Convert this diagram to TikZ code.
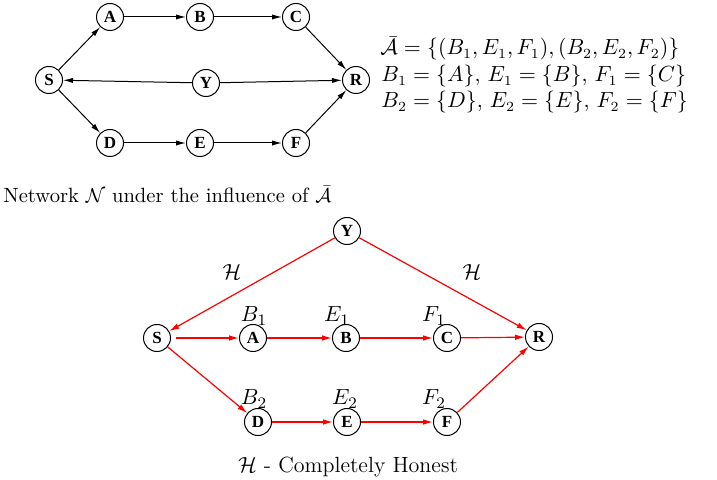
\documentclass[tikz,border=0pt]{standalone}
\usepackage{fontspec}
\newfontfamily\nodefont{Liberation Serif}
\usetikzlibrary{arrows.meta}
\begin{document}
\begin{tikzpicture}[x=0.5pt,y=-0.5pt,
  vtx/.style={circle,draw,line width=0.5pt,minimum size=13.5pt,inner sep=0pt,font=\nodefont\bfseries\fontsize{8.5}{9}\selectfont},
  blk/.style={line width=0.5pt,-{Latex[length=5pt,width=2.6pt]}},
  redarr/.style={red,line width=0.6pt,-{Latex[length=5pt,width=2.8pt]}},
  lbl/.style={inner sep=0pt,anchor=base,font=\fontsize{11}{13}\selectfont},
  rtxt/.style={inner sep=0pt,anchor=base west,font=\fontsize{10.7}{13}\selectfont}
]
\useasboundingbox (0,0) rectangle (717,480);
% top graph
\node[vtx] (S) at (49,80) {S};
\node[vtx] (A) at (110,17) {A};
\node[vtx] (B) at (200,17) {B};
\node[vtx] (C) at (296,17) {C};
\node[vtx] (Y) at (206,83) {Y};
\node[vtx] (R) at (356,80) {R};
\node[vtx] (D) at (110,143) {D};
\node[vtx] (E) at (200,143) {E};
\node[vtx] (F) at (296,143) {F};
\draw[blk] (S) -- (A);
\draw[blk] (A) -- (B);
\draw[blk] (B) -- (C);
\draw[blk] (C) -- (R);
\draw[blk] (Y) -- (S);
\draw[blk] (Y) -- (R);
\draw[blk] (S) -- (D);
\draw[blk] (D) -- (E);
\draw[blk] (E) -- (F);
\draw[blk] (F) -- (R);
% right text
\node[rtxt] (t1) at (380,55) {$\bar{\mathcal{A}} = \{(B_1,E_1,F_1),(B_2,E_2,F_2)\}$};
\node[rtxt] (t2) at (381,82) {$B_1=\{A\}$, $E_1=\{B\}$, $F_1=\{C\}$};
\node[rtxt] (t3) at (381,108) {$B_2=\{D\}$, $E_2=\{E\}$, $F_2=\{F\}$};
% caption
\node[inner sep=0pt,anchor=base west,font=\fontsize{10.3}{12}\selectfont] (cap1) at (3,203) {Network $\mathcal{N}$ under the influence of $\bar{\mathcal{A}}$};
% bottom graph
\node[vtx] (S2) at (157,338) {S};
\node[vtx] (A2) at (253,338) {A};
\node[vtx] (B2) at (346,338) {B};
\node[vtx] (C2) at (447,338) {C};
\node[vtx] (R2) at (539,337) {R};
\node[vtx] (Y2) at (347,231) {Y};
\node[vtx] (D2) at (258,422) {D};
\node[vtx] (E2) at (347,422) {E};
\node[vtx] (F2) at (447,422) {F};
\draw[redarr] (Y2) -- (S2);
\draw[redarr] (Y2) -- (R2);
\draw[redarr,shorten <=2.5pt] (S2) -- (A2);
\draw[redarr] (A2) -- (B2);
\draw[redarr] (B2) -- (C2);
\draw[redarr] (C2) -- (R2);
\draw[redarr] (S2) -- (D2);
\draw[redarr] (D2) -- (E2);
\draw[redarr] (E2) -- (F2);
\draw[redarr] (F2) -- (R2);
\node[lbl] (h1) at (232,280) {$\mathcal{H}$};
\node[lbl] (h2) at (472,280) {$\mathcal{H}$};
\node[lbl] (lb1) at (254,322) {$B_1$};
\node[lbl] (le1) at (337,322) {$E_1$};
\node[lbl] (lf1) at (434,322) {$F_1$};
\node[lbl] (lb2) at (254,405) {$B_2$};
\node[lbl] (le2) at (345,405) {$E_2$};
\node[lbl] (lf2) at (434,405) {$F_2$};
\node[lbl] (cap2) at (348,472) {$\mathcal{H}$ - Completely Honest};
\end{tikzpicture}
\end{document}
